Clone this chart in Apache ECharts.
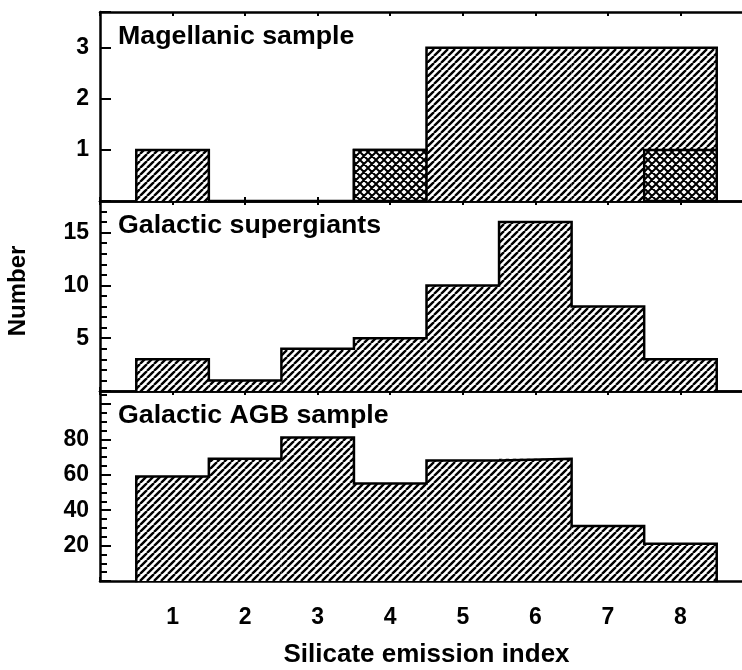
<!DOCTYPE html>
<html><head><meta charset="utf-8">
<script src="https://cdn.jsdelivr.net/npm/echarts@6/dist/echarts.min.js"></script>
<style>html,body{margin:0;padding:0;background:#fff}#c{width:742px;height:670px}</style>
</head><body><div id="c"></div>
<script>
// ---- data ----
const bins = [1, 2, 3, 4, 5, 6, 7, 8];
const xTickLabels = ['1', '2', '3', '4', '5', '6', '7', '8'];
const magTotal = [1, 0, 0, 1, 3, 3, 3, 3];
const magCross = [0, 0, 0, 1, 0, 0, 0, 1];
const supergiants = [3, 1, 4, 5, 10, 16, 8, 3];
const agb = [59, 69, 81, 55, 68, 69, 31, 21];
const yTickLabels1 = ['1', '2', '3'];
const yTickLabels2 = ['5', '10', '15'];
const yTickLabels3 = ['20', '40', '60', '80'];
const panelTitles = ['Magellanic sample', 'Galactic supergiants', 'Galactic AGB sample'];
const xName = 'Silicate emission index';
const yName = 'Number';

// ---- style ----
const FONT = '"Liberation Sans", Arial, Helvetica, sans-serif';
const LW = 2.5;

function makeTile(s, lw, crossed) {
  const c = document.createElement('canvas'); c.width = s; c.height = s;
  const g = c.getContext('2d');
  g.fillStyle = '#fff'; g.fillRect(0, 0, s, s);
  g.strokeStyle = '#000'; g.lineWidth = lw;
  g.beginPath();
  for (const k of [-s, 0, s]) {
    g.moveTo(k, s); g.lineTo(k + s, 0);
    if (crossed) { g.moveTo(k, 0); g.lineTo(k + s, s); }
  }
  g.stroke();
  return c;
}
const hatchPattern = { image: makeTile(7, 2.4, false), repeat: 'repeat' };
const crossPattern = { image: makeTile(8, 2.0, true), repeat: 'repeat' };

const panels = [
  { top: 12, height: 189, max: 3.7, interval: 1, minor: null, labels: yTickLabels1 },
  { top: 201, height: 190, max: 18, interval: 5, minor: 1, labels: yTickLabels2 },
  { top: 391, height: 190, max: 107.3, interval: 20, minor: 5, labels: yTickLabels3 }
];

const grid = [], xAxis = [], yAxis = [], series = [], graphic = [];

panels.forEach((p, i) => {
  grid.push({ left: 100, width: 653, top: p.top, height: p.height, containLabel: false, outerBoundsMode: 'none' });
  const xBase = {
    type: 'value', gridIndex: i, min: 0, max: 9, interval: 1,
    axisLine: { onZero: false, lineStyle: { color: '#000', width: LW } },
    axisTick: { inside: true, length: 4, lineStyle: { color: '#000', width: 2 } },
    splitLine: { show: false }
  };
  const xb = Object.assign({}, xBase, { position: 'bottom' });
  if (i === 2) {
    xb.axisLabel = {
      show: true, margin: 25, color: '#000', fontFamily: FONT, fontWeight: 'bold', fontSize: 23,
      formatter: v => xTickLabels.includes(String(v)) ? String(v) : ''
    };
    xb.name = xName; xb.nameLocation = 'middle'; xb.nameGap = 61;
    xb.nameTextStyle = { color: '#000', fontFamily: FONT, fontWeight: 'bold', fontSize: 26 };
  } else {
    xb.axisLabel = { show: false };
  }
  xAxis.push(xb);
  xAxis.push(Object.assign({}, xBase, { position: 'top', axisLabel: { show: false } }));

  const yBase = {
    type: 'value', gridIndex: i, min: 0, max: p.max, interval: p.interval,
    axisLine: { onZero: false, lineStyle: { color: '#000', width: LW } },
    axisTick: { inside: true, length: 11, lineStyle: { color: '#000', width: 2 } },
    splitLine: { show: false }
  };
  const yl = Object.assign({}, yBase, {
    position: 'left',
    axisLabel: {
      show: true, margin: 11, color: '#000', fontFamily: FONT, fontWeight: 'bold', fontSize: 23,
      formatter: v => p.labels.includes(String(v)) ? String(v) : ''
    }
  });
  const yIdx = yAxis.length;
  yAxis.push(yl);
  yAxis.push(Object.assign({}, yBase, { position: 'right', axisLabel: { show: false } }));
  if (p.minor) {
    yAxis.push({
      type: 'value', gridIndex: i, min: 0, max: p.max, interval: p.minor, position: 'left',
      axisLine: { show: false }, axisLabel: { show: false }, splitLine: { show: false },
      axisTick: { inside: true, length: 7, lineStyle: { color: '#000', width: 2 } }
    });
  }
  p.xIdx = i * 2; p.yIdx = yIdx;

  graphic.push({
    type: 'text', x: 118, y: p.top + 13, scaleX: 1.07, z: 100,
    style: { text: panelTitles[i], font: 'bold 25px ' + FONT, fill: '#000', align: 'left', verticalAlign: 'top' }
  });
});

function rectRender(pattern, stroke) {
  return function (params, api) {
    const x = api.value(0), v = api.value(1);
    if (!v) return null;
    const a = api.coord([x - 0.5, v]);
    const b = api.coord([x + 0.5, 0]);
    return {
      type: 'rect',
      shape: { x: a[0], y: a[1], width: b[0] - a[0], height: b[1] - a[1] },
      style: { fill: pattern, stroke: stroke ? '#000' : null, lineWidth: stroke ? LW : 0, lineJoin: 'miter' }
    };
  };
}
function outlinePoints(vals) {
  const pts = [[bins[0] - 0.5, 0]];
  vals.forEach((v, k) => { pts.push([bins[k] - 0.5, v], [bins[k] + 0.5, v]); });
  pts.push([bins[bins.length - 1] + 0.5, 0]);
  return pts;
}
function addHist(pi, vals) {
  const p = panels[pi];
  series.push({
    type: 'custom', xAxisIndex: p.xIdx, yAxisIndex: p.yIdx, z: 2, clip: false,
    renderItem: rectRender(hatchPattern, false),
    encode: { x: 0, y: 1 },
    data: bins.map((b, k) => [b, vals[k]])
  });
  series.push({
    type: 'line', xAxisIndex: p.xIdx, yAxisIndex: p.yIdx, z: 3, clip: false,
    showSymbol: false, symbol: 'none', silent: true,
    lineStyle: { color: '#000', width: LW, join: 'miter', cap: 'square' },
    data: outlinePoints(vals)
  });
}
addHist(0, magTotal);
series.push({
  type: 'custom', xAxisIndex: panels[0].xIdx, yAxisIndex: panels[0].yIdx, z: 4, clip: false,
  renderItem: rectRender(crossPattern, true),
  encode: { x: 0, y: 1 },
  data: bins.map((b, k) => [b, magCross[k]])
});
addHist(1, supergiants);
addHist(2, agb);

graphic.push({
  type: 'text', x: 18, y: 291, rotation: Math.PI / 2, z: 100,
  style: { text: yName, font: 'bold 24px ' + FONT, fill: '#000', align: 'center', verticalAlign: 'middle' }
});

const chart = echarts.init(document.getElementById('c'), null, { renderer: 'canvas' });
chart.setOption({
  animation: false,
  backgroundColor: '#fff',
  grid, xAxis, yAxis, series, graphic
});
</script>
</body></html>
